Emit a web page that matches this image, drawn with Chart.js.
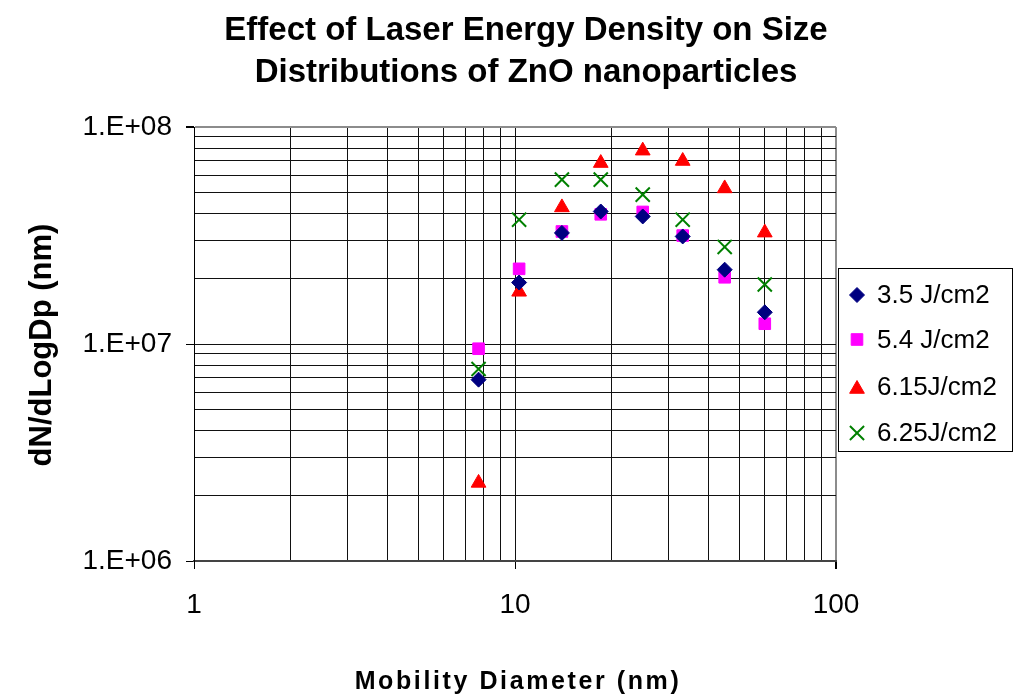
<!DOCTYPE html>
<html>
<head>
<meta charset="utf-8">
<script src="https://cdn.jsdelivr.net/npm/chart.js@4/dist/chart.umd.min.js"></script>
<style>
html,body{margin:0;padding:0;background:#fff;}
#wrap{width:1015px;height:698px;position:relative;}
</style>
</head>
<body>
<div id="wrap"><canvas id="c" width="1015" height="698"></canvas></div>
<script>
// ---- data ----
const diameters = [7.7, 10.3, 14.0, 18.5, 25.0, 33.3, 45.0, 60.0];
const series35  = [6.85e6, 1.92e7, 3.25e7, 4.08e7, 3.87e7, 3.13e7, 2.20e7, 1.40e7];
const series54  = [9.51e6, 2.22e7, 3.30e7, 3.96e7, 4.06e7, 3.16e7, 2.03e7, 1.24e7];
const series615 = [2.29e6, 1.74e7, 4.26e7, 6.82e7, 7.78e7, 6.97e7, 5.21e7, 3.26e7];
const series625 = [7.67e6, 3.74e7, 5.72e7, 5.72e7, 4.88e7, 3.74e7, 2.80e7, 1.88e7];
const seriesLabels = ['3.5 J/cm2', '5.4 J/cm2', '6.15J/cm2', '6.25J/cm2'];
const xTicks = [1,2,3,4,5,6,7,8,9,10,20,30,40,50,60,70,80,90,100];
const yTicks = [1e6,2e6,3e6,4e6,5e6,6e6,7e6,8e6,9e6,1e7,2e7,3e7,4e7,5e7,6e7,7e7,8e7,9e7,1e8];
const xTickLabels = {1:'1', 10:'10', 100:'100'};
const yTickLabels = {1e6:'1.E+06', 1e7:'1.E+07', 1e8:'1.E+08'};
const titleLines = ['Effect of Laser Energy Density on Size', 'Distributions of ZnO nanoparticles'];
const xTitle = 'Mobility Diameter (nm)';
const yTitle = 'dN/dLogDp (nm)';

const FONT = "Arial, 'Liberation Sans', sans-serif";
const styles = [
  {pointStyle:'rectRot', radius:7.5, color:'#000080', bw:1},
  {pointStyle:'rect', radius:8.2, color:'#FF00FF', bw:1},
  {pointStyle:'triangle', radius:8.5, color:'#FF0000', bw:1},
  {pointStyle:'crossRot', radius:10, color:'#008000', bw:2}
];
const allSeries = [series35, series54, series615, series625];

const datasets = allSeries.map((s, i) => ({
  label: seriesLabels[i],
  data: diameters.map((x, j) => ({x: x, y: s[j]})),
  showLine: false,
  pointStyle: styles[i].pointStyle,
  pointRadius: styles[i].radius,
  pointHoverRadius: styles[i].radius,
  backgroundColor: styles[i].color,
  borderColor: styles[i].color,
  pointBorderWidth: styles[i].bw,
  borderWidth: styles[i].bw
}));

function isPow10(v){ const l = Math.log10(v); return Math.abs(l - Math.round(l)) < 1e-9; }

function drawMarker(ctx, st, x, y){
  ctx.save();
  ctx.fillStyle = st.color; ctx.strokeStyle = st.color; ctx.lineWidth = st.bw;
  const r = st.radius;
  ctx.beginPath();
  if (st.pointStyle === 'rectRot') {
    ctx.moveTo(x, y - r); ctx.lineTo(x + r, y); ctx.lineTo(x, y + r); ctx.lineTo(x - r, y); ctx.closePath();
    ctx.fill(); ctx.stroke();
  } else if (st.pointStyle === 'rect') {
    const h = r * Math.SQRT1_2;
    ctx.rect(x - h, y - h, 2*h, 2*h); ctx.fill(); ctx.stroke();
  } else if (st.pointStyle === 'triangle') {
    ctx.moveTo(x, y - r);
    ctx.lineTo(x + r*Math.sin(2*Math.PI/3), y - r*Math.cos(2*Math.PI/3));
    ctx.lineTo(x + r*Math.sin(4*Math.PI/3), y - r*Math.cos(4*Math.PI/3));
    ctx.closePath(); ctx.fill(); ctx.stroke();
  } else {
    const h = r * Math.SQRT1_2;
    ctx.moveTo(x - h, y - h); ctx.lineTo(x + h, y + h);
    ctx.moveTo(x + h, y - h); ctx.lineTo(x - h, y + h);
    ctx.stroke();
  }
  ctx.restore();
}

const decorPlugin = {
  id: 'decor',
  afterDraw(chart) {
    const ctx = chart.ctx;
    ctx.save();
    ctx.fillStyle = '#000';
    // title
    ctx.font = 'bold 33px ' + FONT;
    ctx.textAlign = 'center';
    ctx.textBaseline = 'alphabetic';
    ctx.fillText(titleLines[0], 526, 40);
    ctx.fillText(titleLines[1], 526, 82);
    // x title
    ctx.font = 'bold 25px ' + FONT;
    try { ctx.letterSpacing = '2.6px'; } catch(e) {}
    ctx.textBaseline = 'middle';
    ctx.fillText(xTitle, 518, 682);
    try { ctx.letterSpacing = '0px'; } catch(e) {}
    // y title
    ctx.save();
    ctx.translate(42, 345);
    ctx.rotate(-Math.PI/2);
    ctx.font = 'bold 31px ' + FONT;
    ctx.textAlign = 'center';
    ctx.textBaseline = 'middle';
    ctx.fillText(yTitle, 0, 0);
    ctx.restore();
    // legend
    ctx.strokeStyle = '#000';
    ctx.lineWidth = 1;
    ctx.strokeRect(838.5, 268.5, 174, 183);
    const rows = [295, 339.5, 387, 433];
    ctx.font = '26px ' + FONT;
    ctx.textAlign = 'left';
    ctx.textBaseline = 'middle';
    rows.forEach((ry, i) => {
      const st = Object.assign({}, styles[i]);
      if (i === 2) { drawMarker(ctx, st, 857, ry + 2); }
      else drawMarker(ctx, st, 857, ry);
      ctx.fillStyle = '#000';
      ctx.fillText(seriesLabels[i], 877, ry + 1);
    });
    ctx.restore();
  }
};

const edgeColor = '#8c8c8c';
new Chart(document.getElementById('c'), {
  type: 'scatter',
  data: { datasets },
  options: {
    responsive: false,
    animation: false,
    devicePixelRatio: 1,
    layout: { padding: { left: 0, top: 127, right: 179, bottom: 0 } },
    plugins: { legend: { display: false }, title: { display: false }, tooltip: { enabled: false } },
    scales: {
      x: {
        type: 'logarithmic',
        min: 1, max: 100,
        afterBuildTicks: (s) => { s.ticks = xTicks.map(v => ({value: v, major: isPow10(v)})); },
        afterFit: (s) => { s.height = 137; },
        ticks: {
          autoSkip: false, maxRotation: 0, minRotation: 0,
          padding: 19,
          color: '#000',
          font: { family: FONT, size: 28 },
          callback: (v) => xTickLabels[v] !== undefined ? xTickLabels[v] : ''
        },
        grid: {
          drawOnChartArea: true, drawTicks: true, tickLength: 8,
          color: (c) => (c.tick && c.tick.value === 100) ? edgeColor : '#111',
          lineWidth: (c) => (c.tick && c.tick.value === 100) ? 2 : 1,
          tickColor: (c) => (c.tick && isPow10(c.tick.value)) ? '#000' : 'rgba(0,0,0,0)'
        },
        border: { display: true, color: '#444', width: 2 }
      },
      y: {
        type: 'logarithmic',
        min: 1e6, max: 1e8,
        afterBuildTicks: (s) => { s.ticks = yTicks.map(v => ({value: v, major: isPow10(v)})); },
        afterFit: (s) => { s.width = 194; },
        ticks: {
          autoSkip: false,
          padding: 14,
          color: '#000',
          font: { family: FONT, size: 28 },
          callback: (v) => yTickLabels[v] !== undefined ? yTickLabels[v] : ''
        },
        grid: {
          drawOnChartArea: true, drawTicks: true, tickLength: 8,
          color: (c) => (c.tick && c.tick.value === 1e8) ? edgeColor : '#111',
          lineWidth: (c) => (c.tick && c.tick.value === 1e8) ? 2 : 1,
          tickColor: (c) => (c.tick && isPow10(c.tick.value)) ? '#000' : 'rgba(0,0,0,0)'
        },
        border: { display: true, color: '#000', width: 1 }
      }
    }
  },
  plugins: [decorPlugin]
});
</script>
</body>
</html>
